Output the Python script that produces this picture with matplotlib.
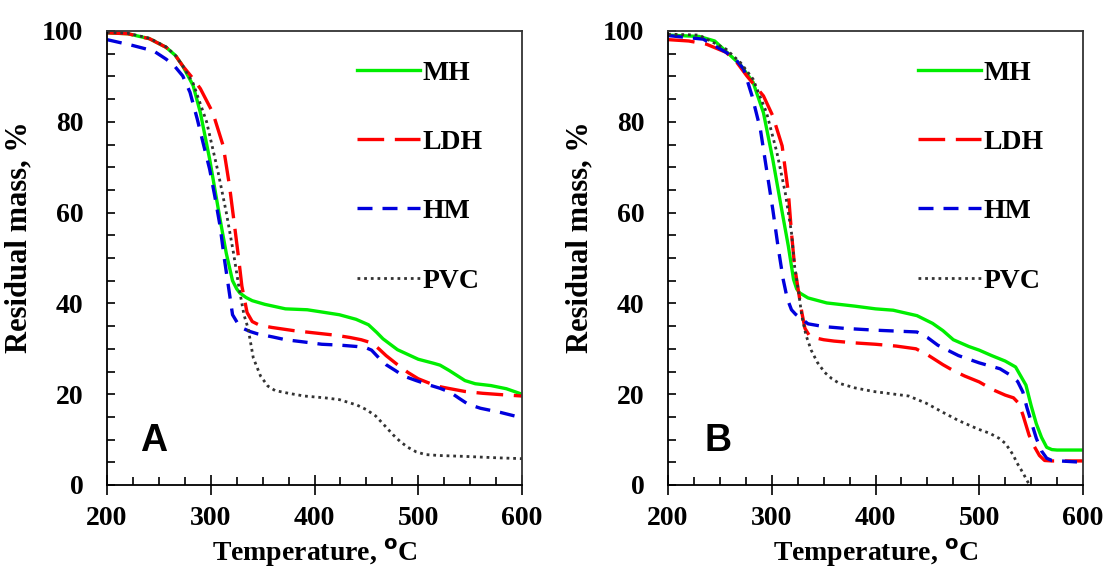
import numpy as np
import matplotlib.pyplot as plt
from matplotlib.ticker import MultipleLocator

# ---- panel A data (temperature, residual mass) ----
a_mh_t = [200, 220, 241, 257, 266, 273, 283, 290, 299, 309, 315, 321, 325, 328, 334, 340, 352, 372, 393, 410, 424, 440, 452, 460, 466, 480, 500, 515, 521, 530, 545, 555, 570, 585, 600]
a_mh_m = [99.6, 99.4, 98.3, 96.4, 94.6, 92.3, 88.0, 82.0, 71.7, 58.5, 51.0, 45.0, 43.2, 42.3, 41.3, 40.6, 39.8, 38.8, 38.6, 38.0, 37.5, 36.5, 35.3, 33.6, 32.2, 29.8, 27.7, 26.8, 26.4, 25.2, 23.0, 22.3, 21.9, 21.2, 20.0]

a_ldh_t = [200, 220, 241, 257, 266, 273, 283, 290, 302, 312, 318, 323, 327, 330, 335, 340, 347, 359, 380, 400, 420, 434, 445, 455, 462, 469, 480, 490, 500, 511, 522, 531, 545, 562, 580, 600]
a_ldh_m = [99.6, 99.4, 98.3, 96.4, 94.6, 92.3, 89.5, 87.3, 82.0, 74.7, 66.0, 57.0, 49.7, 43.8, 38.0, 36.0, 35.2, 34.7, 34.0, 33.5, 33.0, 32.5, 32.0, 31.3, 30.0, 28.5, 26.5, 24.8, 23.4, 22.4, 21.6, 21.2, 20.6, 20.2, 19.9, 19.6]

a_hm_t = [200, 225, 245, 257, 265, 273, 280, 287, 293, 299, 304, 309, 313, 317, 321, 326, 331, 338, 345, 360, 372, 390, 407, 425, 441, 450, 455, 462, 469, 478, 486, 498, 511, 521, 531, 540, 548, 560, 579, 600]
a_hm_m = [98.1, 96.8, 95.6, 93.8, 92.3, 90.1, 86.5, 80.6, 75.0, 69.5, 63.5, 57.0, 50.0, 43.8, 37.5, 35.6, 34.5, 33.8, 33.3, 32.6, 32.0, 31.5, 31.0, 30.8, 30.5, 30.2, 29.7, 28.0, 26.5, 25.2, 24.0, 23.0, 22.0, 21.3, 20.4, 19.0, 17.8, 16.9, 16.0, 14.8]

a_pvc_t = [200, 220, 241, 257, 266, 273, 283, 296, 307, 315, 322, 327, 332, 336, 341, 348, 355, 362, 375, 390, 410, 424, 441, 450, 459, 468, 476, 483, 490, 498, 507, 520, 545, 575, 600]
a_pvc_m = [99.7, 99.5, 98.4, 96.5, 94.6, 92.3, 88.5, 80.0, 69.0, 60.0, 51.0, 43.8, 37.5, 34.5, 28.0, 24.0, 21.8, 20.8, 20.2, 19.6, 19.2, 18.8, 17.6, 16.6, 15.2, 13.0, 11.0, 9.5, 8.3, 7.3, 6.7, 6.5, 6.3, 6.0, 5.8]

# ---- panel B data ----
b_mh_t = [200, 230, 245, 256, 270, 282, 292, 301, 309, 316, 321, 324, 327, 335, 353, 380, 400, 417, 440, 455, 465, 475, 490, 500, 512, 525, 535, 540, 545, 550, 555, 560, 565, 570, 575, 600]
b_mh_m = [99.1, 98.8, 97.8, 95.5, 92.5, 88.7, 82.0, 71.7, 61.4, 52.6, 45.3, 43.2, 42.3, 41.2, 40.1, 39.4, 38.8, 38.5, 37.3, 35.6, 34.0, 32.0, 30.5, 29.7, 28.5, 27.3, 26.0, 24.0, 22.0, 17.5, 13.5, 10.5, 8.3, 7.8, 7.7, 7.7]

b_ldh_t = [200, 220, 237, 256, 266, 276, 292, 301, 310, 316, 319, 322, 326, 329, 332, 336, 340, 350, 360, 380, 400, 420, 439, 450, 465, 475, 486, 500, 513, 525, 533, 538, 542, 548, 553, 558, 563, 570, 600]
b_ldh_m = [98.1, 97.8, 97.1, 95.3, 93.2, 90.1, 85.7, 81.3, 74.7, 64.4, 55.6, 48.2, 42.3, 38.0, 34.5, 33.0, 32.5, 32.0, 31.7, 31.3, 31.0, 30.6, 30.0, 28.7, 26.5, 25.2, 24.0, 22.7, 21.0, 19.8, 19.2, 18.0, 15.5, 11.0, 8.5, 6.5, 5.4, 5.3, 5.3]

b_hm_t = [200, 234, 256, 265, 273, 281, 289, 295, 301, 306, 311, 315, 319, 323, 327, 335, 350, 370, 400, 420, 440, 450, 460, 480, 500, 520, 530, 537, 542, 546, 550, 555, 560, 565, 570, 600]
b_hm_m = [99.0, 98.2, 95.3, 93.8, 91.6, 85.7, 78.4, 69.5, 60.7, 52.6, 45.3, 41.0, 38.6, 37.6, 36.9, 35.5, 34.9, 34.5, 34.1, 33.9, 33.7, 32.5, 30.8, 28.5, 26.9, 25.6, 24.2, 22.8, 20.5, 17.0, 14.0, 10.3, 7.5, 5.9, 5.4, 5.0]

b_pvc_t = [200, 230, 256, 270, 282, 295, 305, 313, 319, 322, 326, 329, 333, 338, 344, 351, 358, 365, 380, 398, 415, 432, 449, 465, 480, 499, 510, 519, 525, 529, 533, 536, 540, 543, 546, 548.5]
b_pvc_m = [99.3, 99.1, 96.0, 93.0, 89.4, 82.0, 73.2, 64.4, 55.6, 48.2, 42.3, 37.2, 33.0, 29.7, 27.0, 24.8, 23.4, 22.4, 21.4, 20.6, 20.1, 19.6, 18.0, 16.0, 14.2, 12.3, 11.4, 10.3, 9.2, 7.9, 6.5, 5.0, 3.5, 2.3, 1.0, 0.0]

labels = ['MH', 'LDH', 'HM', 'PVC']
panel_names = ['A', 'B']
name_pos = [(232, 7.5), (235, 7.5)]

serif = 'Liberation Serif'

fig = plt.figure(figsize=(11.07, 5.72), dpi=100)
axA = fig.add_axes([107 / 1107, 1 - 485 / 572, 415 / 1107, 454 / 572])
axB = fig.add_axes([668 / 1107, 1 - 485 / 572, 415 / 1107, 454 / 572])

panels = [
    (axA, [(a_mh_t, a_mh_m), (a_ldh_t, a_ldh_m), (a_hm_t, a_hm_m), (a_pvc_t, a_pvc_m)]),
    (axB, [(b_mh_t, b_mh_m), (b_ldh_t, b_ldh_m), (b_hm_t, b_hm_m), (b_pvc_t, b_pvc_m)]),
]

for (ax, series), name, npos in zip(panels, panel_names, name_pos):
    (t1, m1), (t2, m2), (t3, m3), (t4, m4) = series
    ax.plot(t1, m1, color='#00ee00', lw=2.4, label=labels[0])
    ax.plot(t2, m2, color='#ff0000', lw=2.4, dashes=(8, 3.2), label=labels[1])
    ax.plot(t3, m3, color='#0000dd', lw=2.4, dashes=(4.5, 3), label=labels[2])
    ax.plot(t4, m4, color='#333333', lw=2.0, dashes=(1, 1.4), label=labels[3])

    ax.set_xlim(200, 600)
    ax.set_ylim(0, 100)
    ax.xaxis.set_major_locator(MultipleLocator(100))
    ax.xaxis.set_minor_locator(MultipleLocator(25))
    ax.yaxis.set_major_locator(MultipleLocator(20))
    ax.yaxis.set_minor_locator(MultipleLocator(5))
    ax.tick_params(which='both', direction='in', length=6, width=1.2, top=False, right=False)
    ax.tick_params(axis='x', which='major', direction='inout', length=14)
    ax.tick_params(axis='y', which='major', pad=17)
    ax.tick_params(axis='x', which='major', pad=8)
    for lab in ax.get_xticklabels() + ax.get_yticklabels():
        lab.set_fontfamily(serif)
        lab.set_fontweight('bold')
        lab.set_fontsize(20)
    for sp in ax.spines.values():
        sp.set_linewidth(1.3)
        sp.set_color('#333333')
    ax.spines['bottom'].set_color('black')
    ax.spines['left'].set_color('black')

    ax.set_xlabel('Temperature, $^{\\mathbf{o}}$C', fontfamily=serif, fontweight='bold', fontsize=20, labelpad=4)
    ax.set_ylabel('Residual mass, %', fontfamily=serif, fontweight='bold', fontsize=22)
    ax.yaxis.set_label_coords(-0.178, 0.545)

    ax.text(npos[0], npos[1], name, fontfamily='Liberation Sans',
            fontweight='bold', fontsize=27)

    ax.legend(loc='upper left', bbox_to_anchor=(0.602, 0.936), frameon=False,
              borderpad=0, borderaxespad=0,
              handlelength=2.27, handletextpad=0.1, labelspacing=1.58,
              prop={'family': serif, 'weight': 'bold', 'size': 20})

fig.savefig('out.png', dpi=100)
